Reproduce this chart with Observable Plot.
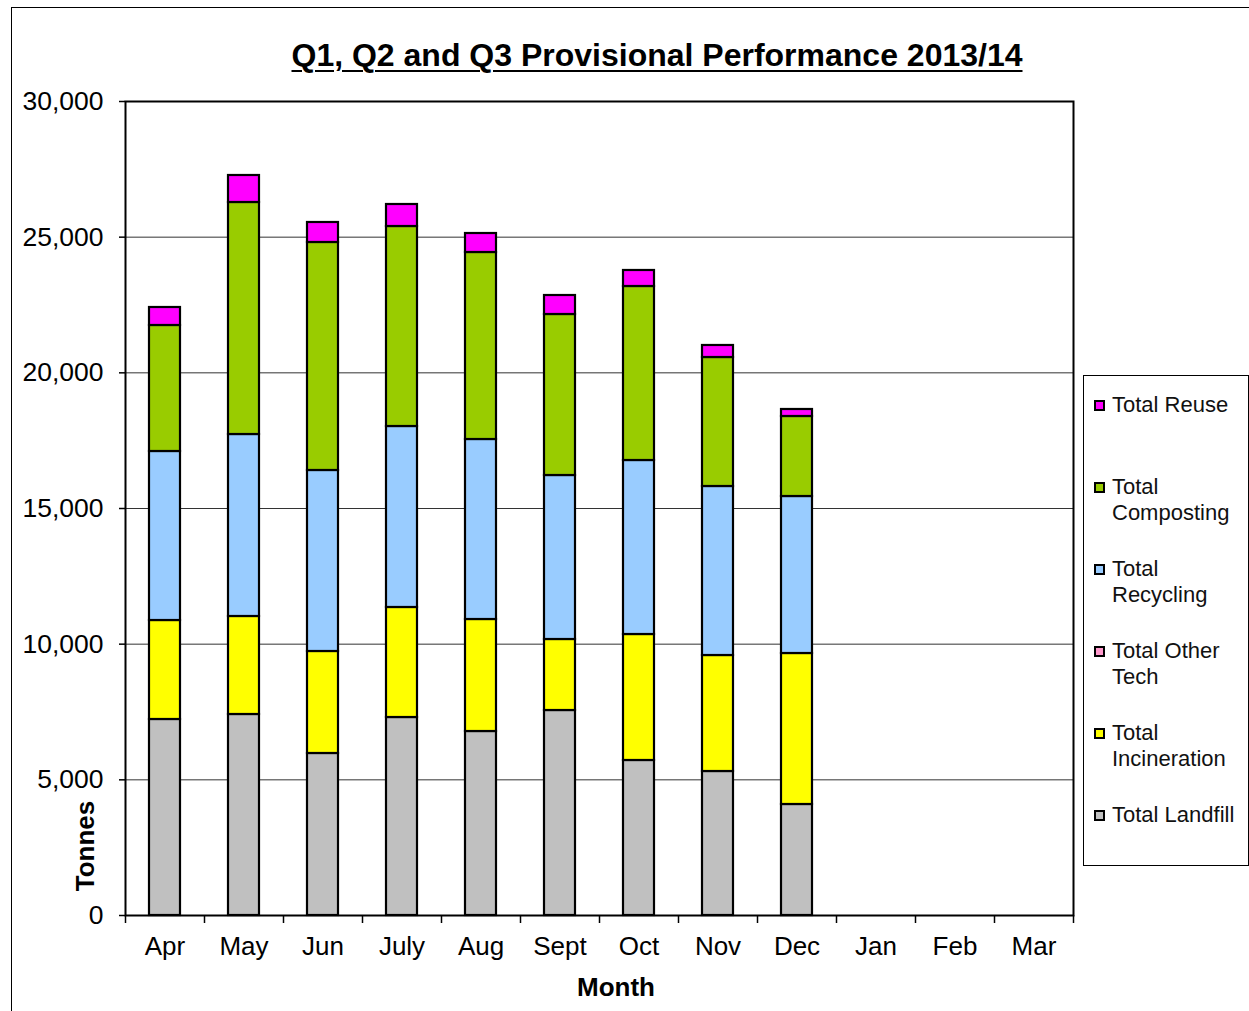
<!DOCTYPE html>
<html>
<head>
<meta charset="utf-8">
<script src="https://cdn.jsdelivr.net/npm/d3@7"></script>
<script src="https://cdn.jsdelivr.net/npm/@observablehq/plot@0.6"></script>
<style>
  html, body { margin: 0; padding: 0; background: #fff; }
  body { width: 1249px; height: 1011px; overflow: hidden; font-family: "Liberation Sans", Arial, sans-serif; }
  #wrap { position: relative; width: 1249px; height: 1011px; }
  #outer { position: absolute; left: 11px; top: 7px; width: 1250px; height: 1010px; border-left: 1.5px solid #000; border-top: 1.5px solid #000; box-sizing: border-box; pointer-events: none; }
  #title { position: absolute; left: 0; width: 1314px; top: 35px; text-align: center; font-weight: bold; font-size: 32px; text-decoration: underline; text-underline-offset: 4px; text-decoration-thickness: 2px; line-height: 40px; color: #000; }
  #ylabel { position: absolute; left: 85px; top: 846px; transform: translate(-50%, -50%) rotate(-90deg); font-weight: bold; font-size: 26px; white-space: nowrap; }
  #xlabel { position: absolute; left: 616px; top: 987px; transform: translate(-50%, -50%); font-weight: bold; font-size: 26px; white-space: nowrap; }
  #legend { position: absolute; left: 1083px; top: 375px; width: 166px; height: 491px; border: 1.5px solid #000; box-sizing: border-box; background: #fff; }
  .item { position: absolute; left: 10px; font-size: 22px; line-height: 26px; color: #111; }
  .sw { position: absolute; left: 0; top: 8px; width: 11px; height: 11px; border: 2px solid #000; box-sizing: border-box; }
  .lab { position: absolute; left: 18px; width: 132px; }
  svg { position: absolute; left: 0; top: 0; }
</style>
</head>
<body>
<div id="wrap">
  <div id="chart"></div>
  <div id="outer"></div>
  <div id="title"></div>
  <div id="ylabel"></div>
  <div id="xlabel"></div>
  <div id="legend"></div>
</div>
<script>
const titleText = "Q1, Q2 and Q3 Provisional Performance 2013/14";
const yLabel = "Tonnes";
const xLabel = "Month";
const months = ["Apr", "May", "Jun", "July", "Aug", "Sept", "Oct", "Nov", "Dec", "Jan", "Feb", "Mar"];
const seriesNames = ["Total Landfill", "Total Incineration", "Total Other Tech", "Total Recycling", "Total Composting", "Total Reuse"];
const seriesColors = ["#C0C0C0", "#FFFF00", "#FF99CC", "#99CCFF", "#99CC00", "#FF00FF"];
const yTicks = [0, 5000, 10000, 15000, 20000, 25000, 30000];

// Values (tonnes), Apr..Dec; Jan..Mar have no data
const landfill     = [7224, 7408, 5971, 7297, 6781, 7555, 5713, 5307, 4091];
const incineration = [3648, 3612, 3759, 4055, 4128, 2617, 4643, 4275, 5565];
const otherTech    = [0, 0, 0, 0, 0, 0, 0, 0, 0];
const recycling    = [6229, 6707, 6671, 6670, 6634, 6044, 6413, 6229, 5786];
const composting   = [4644, 8551, 8403, 7371, 6892, 5934, 6413, 4754, 2949];
const reuse        = [663, 995, 737, 811, 700, 700, 590, 443, 258];

const seriesValues = [landfill, incineration, otherTech, recycling, composting, reuse];

const rows = [];
seriesNames.forEach((s, si) => {
  seriesValues[si].forEach((v, mi) => {
    rows.push({month: months[mi], series: s, value: v});
  });
});

const W = 1249, H = 1011;
const mL = 125, mR = 176, mT = 101, mB = 96;
const band = (W - mL - mR) / months.length;
const pInner = 0.608;

const chart = Plot.plot({
  width: W,
  height: H,
  marginLeft: mL,
  marginRight: mR,
  marginTop: mT,
  marginBottom: mB,
  style: { fontFamily: "'Liberation Sans', Arial, sans-serif", fontSize: "26px", color: "#000", background: "transparent" },
  x: { domain: months, paddingInner: pInner, paddingOuter: pInner / 2, label: null },
  y: { domain: [0, 30000], label: null },
  color: { domain: seriesNames, range: seriesColors },
  marks: [
    Plot.gridY(yTicks, { stroke: "#333", strokeOpacity: 1, strokeWidth: 1 }),
    Plot.barY(rows, Plot.stackY({
      x: "month", y: "value", fill: "series", order: seriesNames,
      stroke: "#000", strokeWidth: 2.2
    })),
    Plot.frame({ stroke: "#000", strokeWidth: 2 }),
    Plot.axisY(yTicks, { tickFormat: d3.format(","), tickSize: 6, tickPadding: 16, fontSize: 26.5, strokeWidth: 1.5 }),
    Plot.axisX({ tickSize: 0, tickPadding: 21, fontSize: 26 }),
    Plot.axisX({ text: null, tickSize: 8, dx: -band / 2, strokeWidth: 1.5 }),
    Plot.axisX(["Mar"], { text: null, tickSize: 8, dx: band / 2, strokeWidth: 1.5 })
  ]
});
document.getElementById("chart").appendChild(chart);

document.getElementById("title").textContent = titleText;
document.getElementById("ylabel").textContent = yLabel;
document.getElementById("xlabel").textContent = xLabel;

// Legend (top to bottom reverses stacking order)
const legend = document.getElementById("legend");
const order = seriesNames.map((s, i) => i).reverse();
order.forEach((si, k) => {
  const item = document.createElement("div");
  item.className = "item";
  item.style.top = (16 + k * 82) + "px";
  const sw = document.createElement("div");
  sw.className = "sw";
  sw.style.background = seriesColors[si];
  const lab = document.createElement("div");
  lab.className = "lab";
  lab.textContent = seriesNames[si];
  item.appendChild(sw);
  item.appendChild(lab);
  legend.appendChild(item);
});
</script>
</body>
</html>
